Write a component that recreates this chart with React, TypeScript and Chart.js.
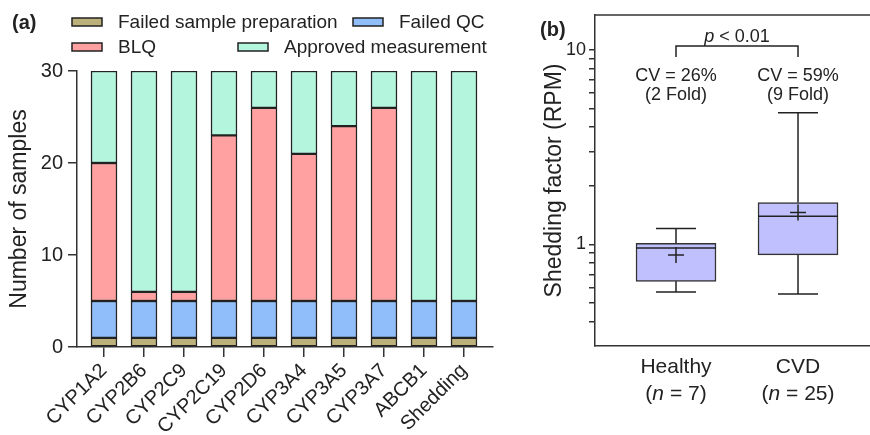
import React, { useEffect, useRef } from 'react';
import { Chart, registerables } from 'chart.js';

Chart.register(...registerables);

// ---------- Panel (a) data ----------
const categories = ['CYP1A2', 'CYP2B6', 'CYP2C9', 'CYP2C19', 'CYP2D6', 'CYP3A4', 'CYP3A5', 'CYP3A7', 'ABCB1', 'Shedding'];
const failedPrep = [1, 1, 1, 1, 1, 1, 1, 1, 1, 1];
const failedQC = [4, 4, 4, 4, 4, 4, 4, 4, 4, 4];
const blq = [15, 1, 1, 18, 21, 16, 19, 21, 0, 0];
const approved = [10, 24, 24, 7, 4, 9, 6, 4, 25, 25];
const seriesLabels = ['Failed sample preparation', 'Failed QC', 'BLQ', 'Approved measurement'];
const yTicksA = [0, 10, 20, 30];

// ---------- Panel (b) data ----------
const groups = ['Healthy', 'CVD'];
const groupN = ['7', '25'];
const whiskerLow = [0.569, 0.556];
const q1 = [0.645, 0.882];
const median = [0.957, 1.394];
const q3 = [1.012, 1.638];
const whiskerHigh = [1.207, 4.75];
const mean = [0.882, 1.456];
const cvText = ['CV = 26%', 'CV = 59%'];
const foldText = ['(2 Fold)', '(9 Fold)'];
const pValueText = ' < 0.01';
const yTicksB = [0.4, 0.5, 0.6, 0.7, 0.8, 0.9, 1, 2, 3, 4, 5, 6, 7, 8, 9, 10];
const yLabelsB = [1, 10];

const FONT = '"Liberation Sans", Arial, Helvetica, sans-serif';
const INK = '#222222';
const AXIS = '#333333';
const COLORS = ['#BCB07B', '#90BEFA', '#FFA1A1', '#B4F5DE'];
const BOX_FILL = '#C0C0FF';

type Part = { text: string; italic?: boolean };

function drawRich(ctx: CanvasRenderingContext2D, parts: Part[], cx: number, cy: number, size: number) {
  const fontFor = (p: Part) => `${p.italic ? 'italic ' : ''}${size}px ${FONT}`;
  let total = 0;
  const widths = parts.map((p) => {
    ctx.font = fontFor(p);
    const w = ctx.measureText(p.text).width;
    total += w;
    return w;
  });
  let x = cx - total / 2;
  ctx.textAlign = 'left';
  ctx.textBaseline = 'middle';
  parts.forEach((p, i) => {
    ctx.font = fontFor(p);
    ctx.fillText(p.text, x, cy);
    x += widths[i];
  });
}

function PanelA() {
  const ref = useRef<HTMLCanvasElement>(null);
  useEffect(() => {
    const legendSlots = [
      { x: 72, y: 22 },
      { x: 353, y: 22 },
      { x: 72, y: 47 },
      { x: 238, y: 47 },
    ];
    const legendPlugin = {
      id: 'legendA',
      afterDraw(chart: any) {
        const ctx = chart.ctx as CanvasRenderingContext2D;
        ctx.save();
        ctx.fillStyle = INK;
        ctx.font = `bold 20px ${FONT}`;
        ctx.textAlign = 'left';
        ctx.textBaseline = 'middle';
        ctx.fillText('(a)', 12, 23);
        chart.data.datasets.forEach((ds: any, i: number) => {
          const s = legendSlots[i];
          ctx.fillStyle = ds.backgroundColor;
          ctx.fillRect(s.x, s.y - 4, 30, 8);
          ctx.strokeStyle = INK;
          ctx.lineWidth = 1.5;
          ctx.strokeRect(s.x, s.y - 4, 30, 8);
          ctx.fillStyle = INK;
          ctx.font = `19px ${FONT}`;
          ctx.textAlign = 'left';
          ctx.textBaseline = 'middle';
          ctx.fillText(ds.label, s.x + 46, s.y + 1);
        });
        ctx.restore();
      },
    };
    const series = [failedPrep, failedQC, blq, approved];
    const chart = new Chart(ref.current as HTMLCanvasElement, {
      type: 'bar',
      data: {
        datasets: series.map((vals, k) => ({
          label: seriesLabels[k],
          data: categories.map((_, i) => ({ x: i, y: vals[i] })),
          backgroundColor: COLORS[k],
          borderColor: INK,
          borderWidth: 1.5,
          borderSkipped: false,
          barThickness: 26,
        })),
      },
      options: {
        animation: false,
        responsive: false,
        maintainAspectRatio: false,
        layout: { padding: { top: 71, right: 37, left: 0, bottom: 0 } },
        plugins: { legend: { display: false }, tooltip: { enabled: false } },
        scales: {
          x: {
            type: 'linear',
            stacked: true,
            offset: false,
            min: -0.675,
            max: 9.725,
            afterBuildTicks: (s: any) => {
              s.ticks = categories.map((_, i) => ({ value: i }));
            },
            afterFit: (s: any) => {
              s.height = 88;
            },
            ticks: {
              autoSkip: false,
              minRotation: 45,
              maxRotation: 45,
              padding: 2,
              color: INK,
              font: { size: 20, family: FONT },
              callback: (v: any) => categories[Math.round(Number(v))] ?? '',
            },
            grid: { offset: false, drawOnChartArea: false, drawTicks: true, tickLength: 10, color: AXIS, lineWidth: 1.5 },
            border: { color: AXIS, width: 1.5 },
          },
          y: {
            stacked: true,
            min: 0,
            max: 30,
            afterBuildTicks: (s: any) => {
              s.ticks = yTicksA.map((v) => ({ value: v }));
            },
            afterFit: (s: any) => {
              s.width = 77;
            },
            ticks: { color: INK, padding: 5, font: { size: 20, family: FONT } },
            grid: { drawOnChartArea: false, drawTicks: true, tickLength: 9, color: AXIS, lineWidth: 1.5 },
            border: { color: AXIS, width: 1.5 },
            title: {
              display: true,
              text: 'Number of samples',
              color: INK,
              font: { size: 23, family: FONT },
              padding: { top: 6, bottom: 0 },
            },
          },
        },
      },
      plugins: [legendPlugin],
    } as any);
    return () => chart.destroy();
  }, []);
  return (
    <canvas
      ref={ref}
      width={530}
      height={435}
      style={{ position: 'absolute', left: 0, top: 0, width: 530, height: 435 }}
    />
  );
}

function PanelB() {
  const ref = useRef<HTMLCanvasElement>(null);
  useEffect(() => {
    const boxPlugin = {
      id: 'boxB',
      afterDatasetsDraw(chart: any) {
        const ctx = chart.ctx as CanvasRenderingContext2D;
        const xs = chart.scales.x;
        const ys = chart.scales.y;
        ctx.save();
        ctx.strokeStyle = INK;
        ctx.lineWidth = 1.5;
        groups.forEach((_, i) => {
          const x = xs.getPixelForValue(i);
          const yHi = ys.getPixelForValue(whiskerHigh[i]);
          const yQ3 = ys.getPixelForValue(q3[i]);
          const yQ1 = ys.getPixelForValue(q1[i]);
          const yLo = ys.getPixelForValue(whiskerLow[i]);
          const yMed = ys.getPixelForValue(median[i]);
          const yMean = ys.getPixelForValue(mean[i]);
          ctx.beginPath();
          ctx.moveTo(x, yQ3);
          ctx.lineTo(x, yHi);
          ctx.moveTo(x - 20, yHi);
          ctx.lineTo(x + 20, yHi);
          ctx.moveTo(x, yQ1);
          ctx.lineTo(x, yLo);
          ctx.moveTo(x - 20, yLo);
          ctx.lineTo(x + 20, yLo);
          ctx.moveTo(x - 40, yMed);
          ctx.lineTo(x + 40, yMed);
          ctx.moveTo(x - 8, yMean);
          ctx.lineTo(x + 8, yMean);
          ctx.moveTo(x, yMean - 8);
          ctx.lineTo(x, yMean + 8);
          ctx.stroke();
        });
        ctx.restore();
      },
      afterDraw(chart: any) {
        const ctx = chart.ctx as CanvasRenderingContext2D;
        const xs = chart.scales.x;
        const { top, bottom, left, right } = chart.chartArea;
        ctx.save();
        ctx.strokeStyle = AXIS;
        ctx.lineWidth = 1.5;
        ctx.beginPath();
        ctx.moveTo(left, top);
        ctx.lineTo(right, top);
        ctx.stroke();
        ctx.fillStyle = INK;
        ctx.font = `bold 20px ${FONT}`;
        ctx.textAlign = 'left';
        ctx.textBaseline = 'middle';
        ctx.fillText('(b)', 10, 30);
        const x0 = xs.getPixelForValue(0);
        const x1 = xs.getPixelForValue(1);
        ctx.strokeStyle = INK;
        ctx.beginPath();
        ctx.moveTo(x0, top + 42);
        ctx.lineTo(x0, top + 31);
        ctx.lineTo(x1, top + 31);
        ctx.lineTo(x1, top + 42);
        ctx.stroke();
        drawRich(ctx, [{ text: 'p', italic: true }, { text: pValueText }], (x0 + x1) / 2, top + 22, 18);
        groups.forEach((g, i) => {
          const x = xs.getPixelForValue(i);
          drawRich(ctx, [{ text: cvText[i] }], x, top + 61, 18);
          drawRich(ctx, [{ text: foldText[i] }], x, top + 80, 18);
          drawRich(ctx, [{ text: g }], x, bottom + 21, 21);
          drawRich(ctx, [{ text: '(' }, { text: 'n', italic: true }, { text: ' = ' + groupN[i] + ')' }], x, bottom + 48, 21);
        });
        ctx.restore();
      },
    };
    const chart = new Chart(ref.current as HTMLCanvasElement, {
      type: 'bar',
      data: {
        datasets: [
          {
            label: 'Shedding factor',
            data: groups.map((_, i) => ({ x: i, y: [q1[i], q3[i]] })),
            backgroundColor: BOX_FILL,
            borderColor: AXIS,
            borderWidth: 1.5,
            borderSkipped: false,
            barThickness: 80,
          },
        ],
      },
      options: {
        animation: false,
        responsive: false,
        maintainAspectRatio: false,
        layout: { padding: { top: 15, right: 0, left: 0, bottom: 0 } },
        plugins: { legend: { display: false }, tooltip: { enabled: false } },
        scales: {
          x: {
            type: 'linear',
            offset: false,
            min: -0.664,
            max: 1.59,
            afterBuildTicks: (s: any) => {
              s.ticks = groups.map((_, i) => ({ value: i }));
            },
            afterFit: (s: any) => {
              s.height = 89;
            },
            ticks: { display: false },
            grid: { display: false, offset: false },
            border: { color: AXIS, width: 1.5 },
          },
          y: {
            type: 'logarithmic',
            min: 0.309,
            max: 15.09,
            afterBuildTicks: (s: any) => {
              s.ticks = yTicksB.map((v) => ({ value: v }));
            },
            afterFit: (s: any) => {
              s.width = 65;
            },
            ticks: {
              autoSkip: false,
              color: INK,
              padding: 3,
              font: { size: 18, family: FONT },
              callback: (v: any) => (yLabelsB.includes(Number(v)) ? String(v) : ''),
            },
            grid: { drawOnChartArea: false, drawTicks: true, tickLength: 6, color: AXIS, lineWidth: 1.5 },
            border: { color: AXIS, width: 1.5 },
            title: {
              display: true,
              text: 'Shedding factor (RPM)',
              color: INK,
              font: { size: 23, family: FONT },
              padding: { top: 11, bottom: 0 },
            },
          },
        },
      },
      plugins: [boxPlugin],
    } as any);
    return () => chart.destroy();
  }, []);
  return (
    <canvas
      ref={ref}
      width={340}
      height={435}
      style={{ position: 'absolute', left: 530, top: 0, width: 340, height: 435 }}
    />
  );
}

export default function App() {
  return (
    <div style={{ position: 'fixed', left: 0, top: 0, width: 870, height: 435, background: '#ffffff', overflow: 'hidden' }}>
      <PanelA />
      <PanelB />
    </div>
  );
}
